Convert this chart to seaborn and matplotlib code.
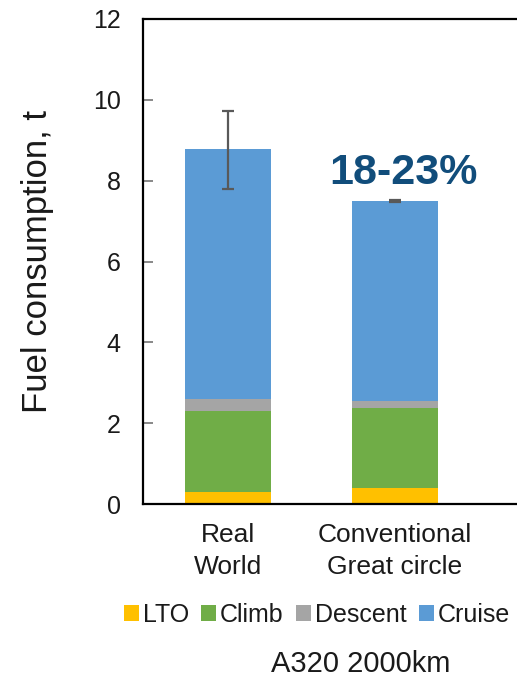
import matplotlib
matplotlib.use("Agg")
import matplotlib.pyplot as plt
import seaborn as sns
import pandas as pd
import numpy as np
from matplotlib.patches import Patch

# Fuel burn per flight phase (tonnes), A320 over 2000 km
routes = ["Real\nWorld", "Conventional\nGreat circle"]
phases = ["LTO", "Climb", "Descent", "Cruise"]
lto = [0.30, 0.39]
climb = [2.01, 1.99]
descent = [0.30, 0.17]
cruise = [6.17, 4.95]
err_low = [0.98, 0.02]
err_high = [0.95, 0.02]
saving_label = "18-23%"

colors = {"LTO": "#FFC000", "Climb": "#70AD47", "Descent": "#A5A5A5", "Cruise": "#5B9BD5"}

sns.set_theme(style="white")
plt.rcParams["font.family"] = ["Liberation Sans", "DejaVu Sans"]

df = pd.DataFrame({"route": routes, "LTO": lto, "Climb": climb,
                   "Descent": descent, "Cruise": cruise})
# cumulative heights, drawn from the tallest layer down so each sits on the previous
cum = df[phases].cumsum(axis=1)

fig = plt.figure(figsize=(5.17, 6.78), dpi=100)
ax = fig.add_axes([0.2766, 0.2566, 0.7234, 0.7154])

for ph in reversed(phases):
    sns.barplot(x=df["route"], y=cum[ph], order=routes, color=colors[ph],
                width=0.51, saturation=1, ax=ax, errorbar=None, linewidth=0)

totals = cum["Cruise"].values
ax.errorbar(np.arange(len(routes)), totals, yerr=[err_low, err_high], fmt="none",
            ecolor="#595959", elinewidth=1.6, capsize=4.5, capthick=1.6, zorder=5)

ax.text(1.05, 8.2, saving_label, ha="center", va="center", fontsize=31,
        fontweight="bold", color="#114D7B")

ax.set_ylim(0, 12)
ax.set_yticks(range(0, 13, 2))
ax.set_xlim(-0.509, 1.731)
ax.set_xlabel("")
ax.set_ylabel("Fuel consumption, t", fontsize=25, color="#1a1a1a", labelpad=28)

ax.tick_params(axis="y", direction="in", length=7, width=1.3, color="#7f7f7f",
               pad=16, labelsize=18, labelcolor="#1a1a1a", left=True)
ax.tick_params(axis="x", length=0, pad=14, labelsize=19, labelcolor="#1a1a1a")
for lab in ax.get_xticklabels():
    lab.set_linespacing(1.38)

for side in ["left", "bottom", "top"]:
    ax.spines[side].set_visible(True)
    ax.spines[side].set_color("black")
    ax.spines[side].set_linewidth(1.6)
ax.spines["right"].set_visible(False)

handles = [Patch(facecolor=colors[p], edgecolor="none", label=p) for p in phases]
fig.legend(handles=handles, loc="center", bbox_to_anchor=(317 / 517, 1 - 615 / 678),
           ncol=4, frameon=False, fontsize=18, handlelength=0.6, handleheight=0.6,
           handletextpad=0.15, columnspacing=0.5, labelcolor="#1a1a1a")

fig.text(361 / 517, 1 - 664 / 678, "A320 2000km", ha="center", va="center",
         fontsize=21, color="#1a1a1a")

fig.savefig("out.png", dpi=100)
